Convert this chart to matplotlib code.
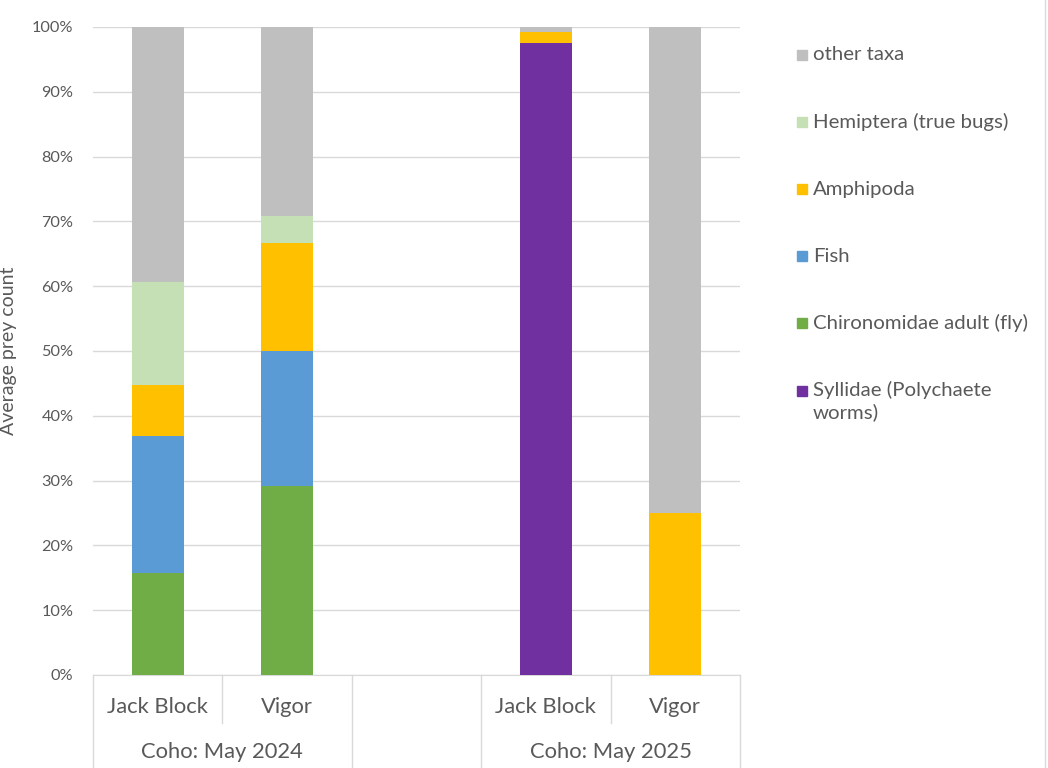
import matplotlib
matplotlib.use("Agg")
import matplotlib.pyplot as plt
from matplotlib.lines import Line2D
from matplotlib.patches import Rectangle
import matplotlib.ticker as tick
import numpy as np

plt.rcParams['font.family'] = ['Lato', 'DejaVu Sans']

# categories (the blank slot separates the two years)
sites = ["Jack Block", "Vigor", "", "Jack Block", "Vigor"]
groups = ["Coho: May 2024", "", "Coho: May 2025"]
group_sizes = [2, 1, 2]

# percent of prey count, stacked bottom to top
taxa = ["Syllidae (Polychaete\nworms)", "Chironomidae adult (fly)", "Fish",
        "Amphipoda", "Hemiptera (true bugs)", "other taxa"]
syllidae = [0, 0, 0, 97.6, 0]
chironomidae = [15.8, 29.2, 0, 0, 0]
fish = [21.1, 20.8, 0, 0, 0]
amphipoda = [7.9, 16.7, 0, 1.6, 25.0]
hemiptera = [15.8, 4.2, 0, 0, 0]
other = [39.5, 29.2, 0, 0.8, 75.0]
colors = ["#7030A0", "#70AD47", "#5B9BD5", "#FFC000", "#C5E0B4", "#BFBFBF"]

series = [syllidae, chironomidae, fish, amphipoda, hemiptera, other]
txt = "#595959"
grid_c = "#D9D9D9"

fig = plt.figure(figsize=(10.48, 7.68), dpi=100)
ax = fig.add_axes([93 / 1048, 1 - 675 / 768, 647 / 1048, 648 / 768])

x = np.arange(len(sites))
bottom = np.zeros(len(sites))
for vals, c in zip(series, colors):
    ax.bar(x, vals, width=0.4, bottom=bottom, color=c, zorder=3)
    bottom += np.array(vals)

ax.set_xlim(-0.5, len(sites) - 0.5)
ax.set_ylim(0, 100)
ax.set_yticks(np.arange(0, 101, 10))
ax.yaxis.set_major_formatter(tick.FuncFormatter(lambda v, p: f"{v:.0f}%"))
ax.tick_params(axis='y', length=0, labelsize=11.7, labelcolor=txt, pad=14)
ax.set_xticks([])
ax.grid(axis='y', color=grid_c, linewidth=1, zorder=0)
for s in ['top', 'right', 'left']:
    ax.spines[s].set_visible(False)
ax.spines['bottom'].set_color(grid_c)
ax.set_ylabel("Average prey count", fontsize=14, color=txt)
ax.yaxis.set_label_coords(-0.118, 0.5)

# two-level category axis
trans = ax.get_xaxis_transform()
for i, s in enumerate(sites):
    ax.text(i, -0.05, s, transform=trans, ha='center', va='center',
            fontsize=15.8, color=txt)
# short dividers inside groups, long dividers between groups
edges = np.cumsum([0] + group_sizes)
for k in range(len(sites) + 1):
    xe = k - 0.5
    low = -0.23 if k in edges else -0.074
    ax.add_line(Line2D([xe, xe], [0, low], transform=trans, color=grid_c,
                       linewidth=1, clip_on=False))
for g, a, b in zip(groups, edges[:-1], edges[1:]):
    ax.text((a + b - 1) / 2, -0.119, g, transform=trans, ha='center',
            va='center', fontsize=15.8, color=txt)

# chart area right border
fig.add_artist(Line2D([1045 / 1048, 1045 / 1048], [0, 1], color=grid_c, linewidth=1))

# legend, top entry first
for j, (name, c) in enumerate(zip(taxa[::-1], colors[::-1])):
    yy = 1 - (55 + 67.1 * j) / 768
    fig.add_artist(Rectangle((797 / 1048, yy - 5 / 768), 10 / 1048, 10 / 768,
                             color=c, transform=fig.transFigure))
    if '\n' in name:
        fig.text(813 / 1048, yy + 10 / 768, name, ha='left', va='top',
                 fontsize=14.7, color=txt, linespacing=1.3)
    else:
        fig.text(813 / 1048, yy, name, ha='left', va='center',
                 fontsize=14.7, color=txt)

fig.savefig("out.png", dpi=100)
